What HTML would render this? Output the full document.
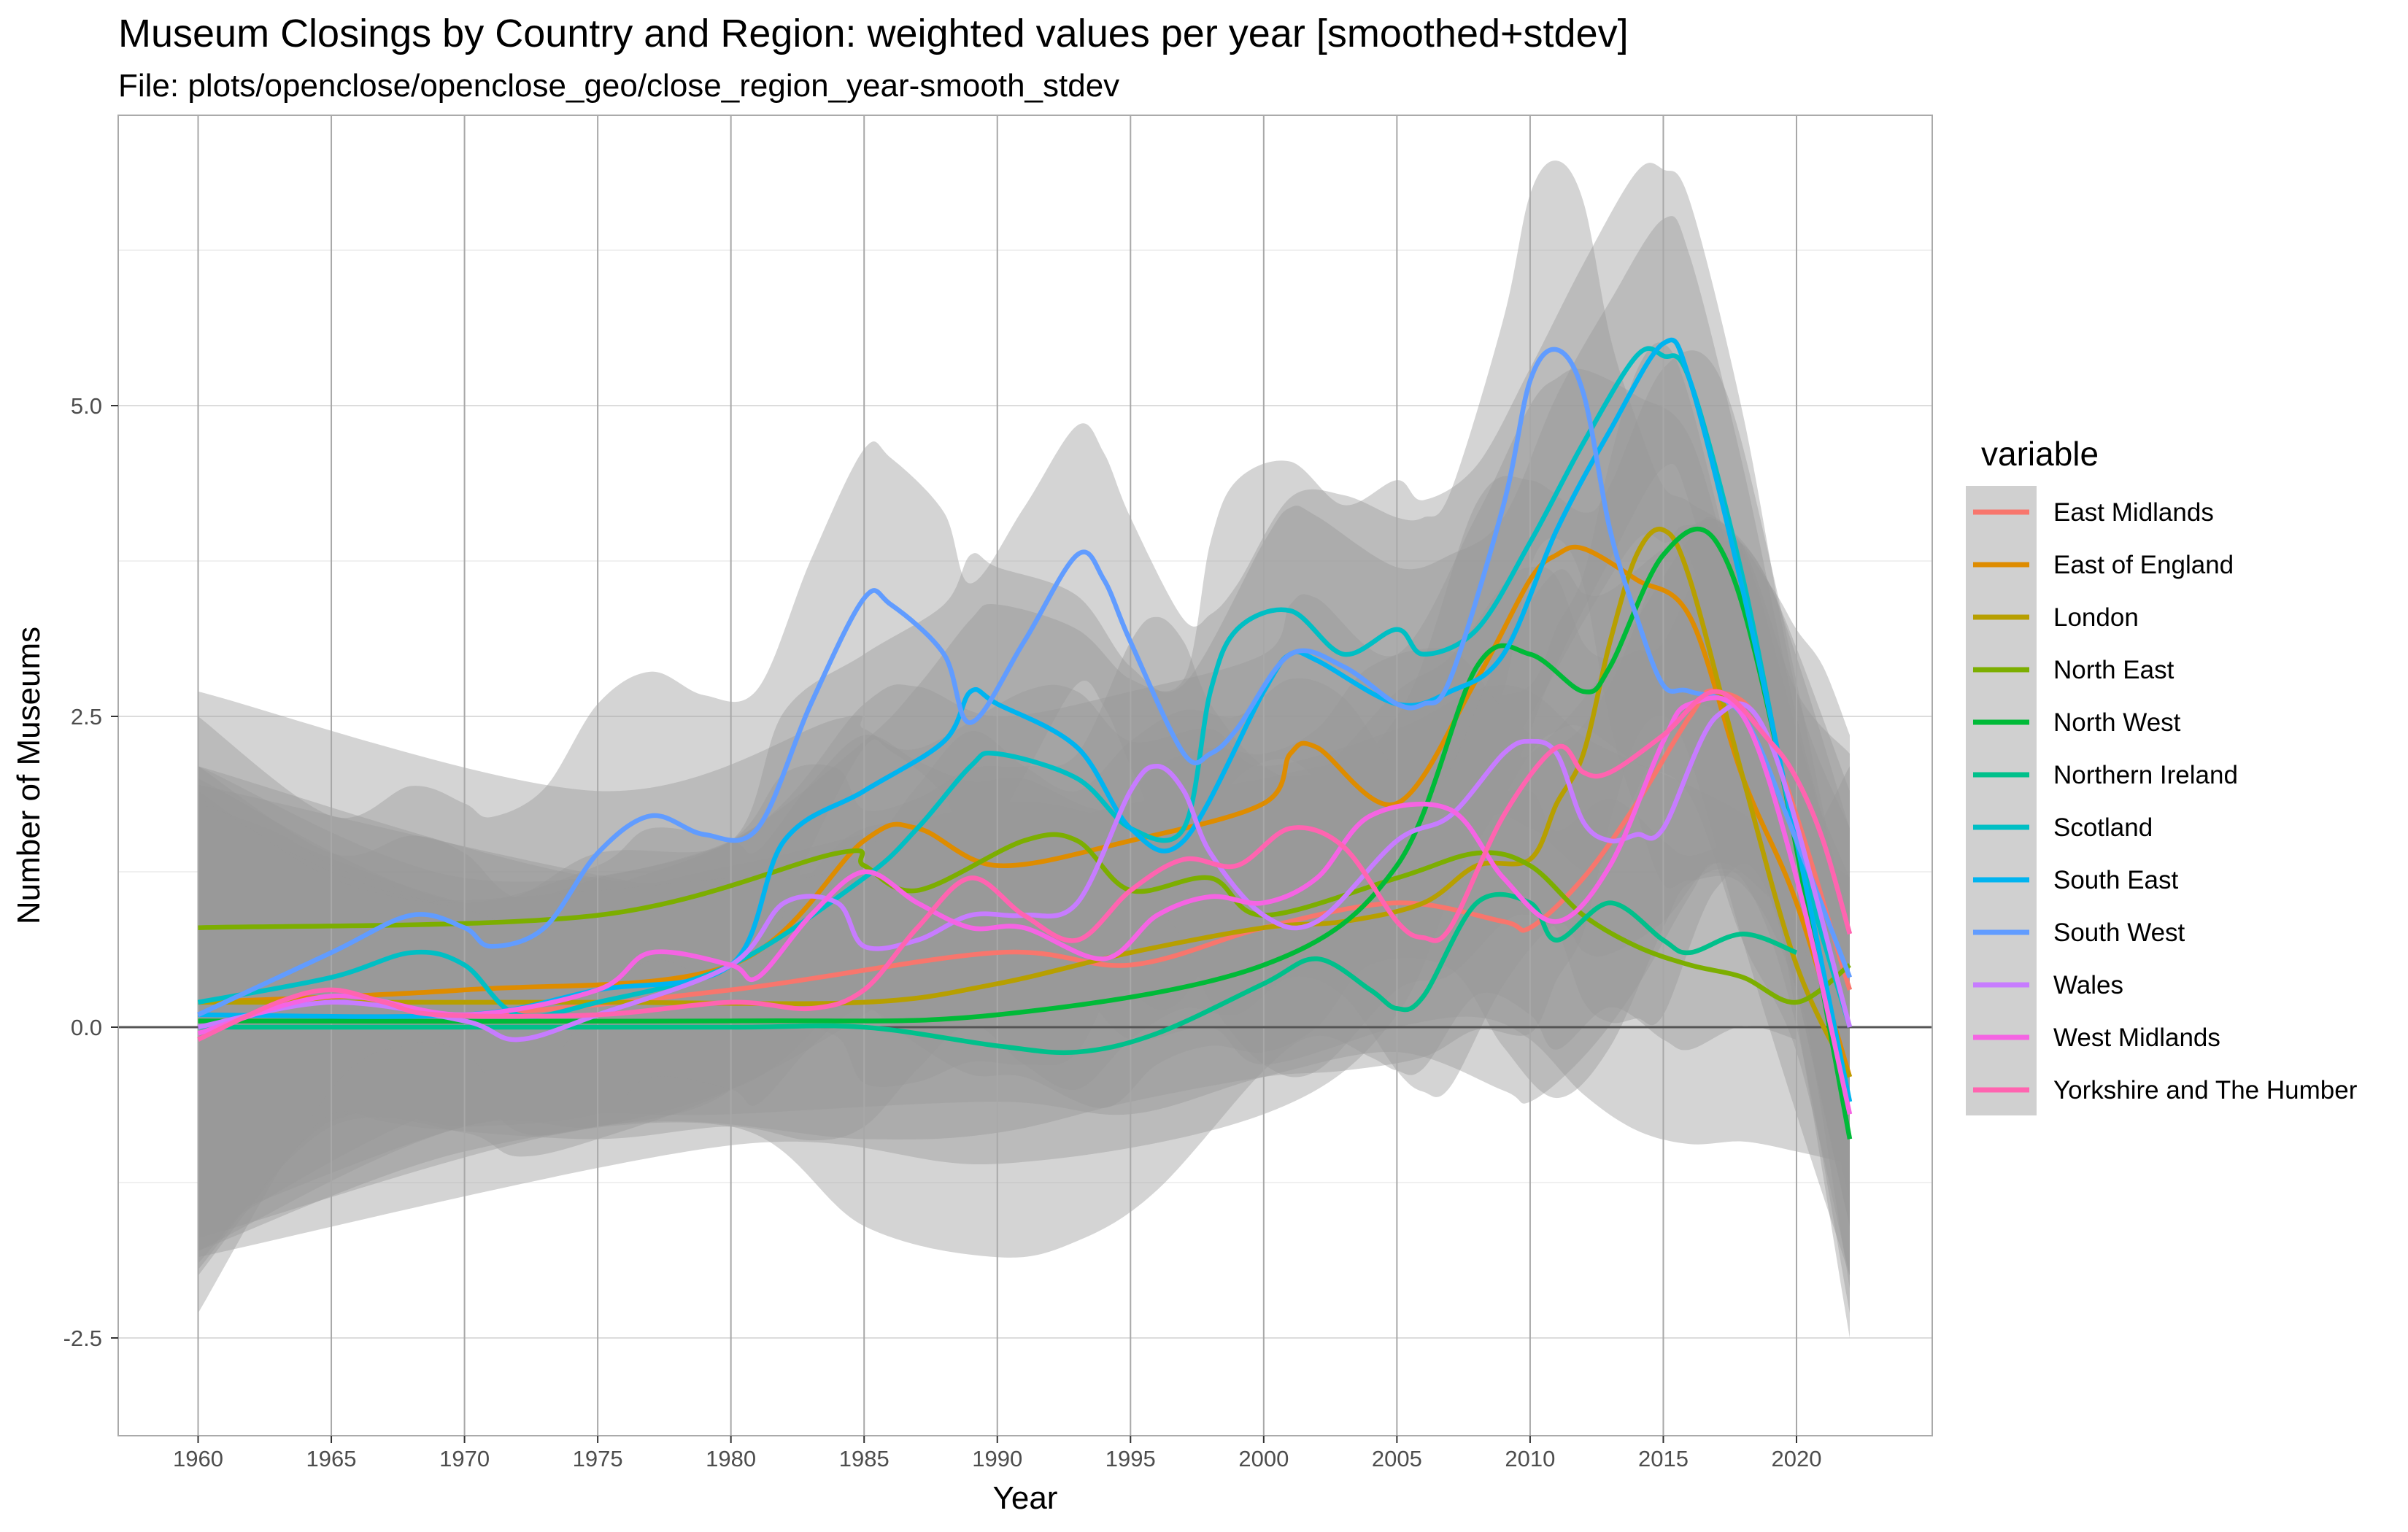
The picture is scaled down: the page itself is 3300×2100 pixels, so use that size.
<!DOCTYPE html>
<html><head><meta charset="utf-8"><style>
html,body{margin:0;padding:0;background:#fff;}
svg{display:block;font-family:"Liberation Sans",Arial,sans-serif;}
</style></head><body>
<svg id="chart" width="3300" height="2100" viewBox="0 0 3300 2100" xmlns="http://www.w3.org/2000/svg">
<rect x="0" y="0" width="3300" height="2100" fill="#fff"/>
<text x="162" y="64" font-size="54" fill="#000">Museum Closings by Country and Region: weighted values per year [smoothed+stdev]</text>
<text x="162" y="132" font-size="44" fill="#000">File: plots/openclose/openclose_geo/close_region_year-smooth_stdev</text>
<g id="grid-h"></g>
<g id="ribbons"></g>
<g id="grid-v"></g>
<line x1="162" x2="2648" y1="1408" y2="1408" stroke="#555" stroke-width="3"/>
<g id="lines"></g>
<rect x="162" y="158" width="2486" height="1810" fill="none" stroke="#aaa" stroke-width="2"/>
<g id="xticks"></g>
<g id="yticks"></g>
<text x="1405" y="2068" font-size="44" text-anchor="middle">Year</text>
<text transform="translate(54,1063) rotate(-90)" font-size="44" text-anchor="middle">Number of Museums</text>
<g id="legend">
<text x="2715" y="638" font-size="46">variable</text>
<rect x="2694" y="666" width="97" height="863" fill="#d0d0d0"/>
</g>
</svg>
<script>
const NS="http://www.w3.org/2000/svg";
const seriesNames=["East Midlands","East of England","London","North East","North West","Northern Ireland","Scotland","South East","South West","Wales","West Midlands","Yorkshire and The Humber"];
const seriesColors=["#F8766D","#DE8C00","#B79F00","#7CAE00","#00BA38","#00C08B","#00BFC4","#00B4F0","#619CFF","#C77CFF","#F564E3","#FF64B0"];
const xTicks=[1960,1965,1970,1975,1980,1985,1990,1995,2000,2005,2010,2015,2020];
const yTicks=[-2.5,0,2.5,5];
const yMinor=[-1.25,1.25,3.75,6.25];
const sdYears=[1960,1965,1970,1975,1980,1985,1990,1995,2000,2005,2010,2015,2020,2022];
const emYears=[1960,1970,1980,1990,1995,2000,2005,2009,2010,2012,2014,2016,2017,2019,2022];
const emVals=[0.1,0.1,0.3,0.6,0.5,0.8,1.0,0.85,0.8,1.2,1.8,2.5,2.7,2.3,0.3];
const eeYears=[1960,1970,1980,1985,1987,1990,1995,2000,2001,2002,2005,2008,2010,2011,2012,2014,2016,2018,2020,2022];
const eeVals=[0.2,0.3,0.5,1.5,1.6,1.3,1.5,1.8,2.2,2.25,1.8,2.8,3.6,3.8,3.85,3.6,3.3,2.0,1.0,-0.4];
const loYears=[1960,1975,1985,1990,1995,2000,2003,2006,2008,2010,2011,2012,2013,2014,2015,2016,2018,2020,2022];
const loVals=[0.2,0.2,0.2,0.35,0.6,0.8,0.85,1.0,1.3,1.35,1.8,2.2,3.1,3.8,4.0,3.6,2.0,0.5,-0.4];
const neYears=[1960,1975,1984,1985,1987,1991,1993,1995,1998,2000,2005,2008,2010,2012,2014,2016,2018,2020,2022];
const neVals=[0.8,0.9,1.4,1.3,1.1,1.5,1.5,1.1,1.2,0.9,1.2,1.4,1.3,0.9,0.65,0.5,0.4,0.2,0.5];
const nwYears=[1960,1980,1990,2000,2005,2008,2010,2012,2013,2015,2017,2019,2022];
const nwVals=[0.05,0.05,0.1,0.5,1.3,2.9,3.0,2.7,2.9,3.8,3.9,2.5,-0.9];
const niYears=[1960,1970,1980,1985,1990,1993,1996,2000,2002,2004,2005,2006,2008,2010,2011,2013,2015,2016,2018,2020];
const niVals=[0.0,0.0,0.0,0.0,-0.15,-0.2,-0.05,0.35,0.55,0.3,0.15,0.25,1.0,1.0,0.7,1.0,0.7,0.6,0.75,0.6];
const scYears=[1960,1965,1968,1970,1972,1975,1980,1985,1987,1989,1990,1993,1995,1997,1998,1999,2001,2003,2005,2006,2008,2010,2012,2014,2015,2016,2018,2020,2022];
const scVals=[0.2,0.4,0.6,0.5,0.1,0.2,0.5,1.2,1.6,2.1,2.2,2.0,1.6,1.6,2.7,3.2,3.35,3.0,3.2,3.0,3.2,3.9,4.7,5.4,5.4,5.2,3.6,1.5,0.0];
const seYears=[1960,1970,1975,1980,1982,1985,1988,1989,1990,1993,1995,1997,2000,2001,2002,2005,2007,2009,2011,2013,2015,2016,2018,2020,2022];
const seVals=[0.1,0.1,0.3,0.5,1.5,1.9,2.3,2.7,2.6,2.25,1.6,1.5,2.7,3.0,2.95,2.6,2.7,3.0,4.0,4.8,5.5,5.2,3.5,1.5,-0.6];
const swYears=[1960,1965,1968,1970,1971,1973,1975,1977,1979,1981,1983,1985,1986,1988,1989,1991,1993,1994,1995,1997,1998,1999,2001,2003,2005,2006,2007,2009,2010,2011,2012,2013,2014,2015,2016,2018,2020,2022];
const swVals=[0.1,0.6,0.9,0.8,0.65,0.8,1.4,1.7,1.55,1.6,2.6,3.45,3.4,3.0,2.45,3.1,3.8,3.6,3.1,2.2,2.2,2.4,3.0,2.9,2.6,2.6,2.8,4.2,5.2,5.45,5.1,4.0,3.3,2.75,2.7,2.5,1.5,0.4];
const waYears=[1960,1965,1970,1972,1975,1980,1982,1984,1985,1987,1989,1991,1993,1995,1996,1997,1998,2000,2002,2005,2007,2009,2010,2011,2012,2013,2014,2015,2017,2019,2022];
const waVals=[0.0,0.2,0.05,-0.1,0.1,0.5,1.0,1.0,0.65,0.7,0.9,0.9,1.0,1.9,2.1,1.9,1.4,0.9,0.85,1.5,1.7,2.2,2.3,2.2,1.65,1.5,1.55,1.6,2.5,2.3,0.0];
const wmYears=[1960,1965,1970,1975,1977,1980,1981,1983,1985,1987,1989,1991,1994,1996,1998,2000,2002,2004,2007,2009,2011,2013,2015,2016,2018,2020,2022];
const wmVals=[-0.05,0.25,0.1,0.3,0.6,0.5,0.4,0.9,1.25,1.0,0.8,0.8,0.55,0.9,1.05,1.0,1.2,1.7,1.75,1.2,0.85,1.3,2.3,2.6,2.5,1.2,-0.7];
const yhYears=[1960,1963,1965,1967,1969,1975,1980,1983,1985,1987,1989,1991,1993,1995,1997,1999,2001,2003,2005,2006,2007,2009,2011,2012,2013,2015,2017,2019,2020,2021,2022];
const yhVals=[-0.1,0.2,0.3,0.2,0.1,0.1,0.2,0.15,0.3,0.8,1.2,0.9,0.7,1.1,1.35,1.3,1.6,1.45,0.85,0.72,0.8,1.7,2.25,2.05,2.05,2.35,2.7,2.3,2.0,1.5,0.75];
const sdDefault=[1.9,1.0,0.9,1.0,1.0,1.1,1.2,1.2,1.2,1.2,1.4,1.5,1.2,1.6];
const sdSouthWest=[2.4,1.1,1.0,1.2,1.1,1.2,1.1,1.0,1.2,1.5,1.5,1.6,1.2,1.8];
const sdNorthernIreland=[1.8,1.1,1.0,1.0,0.8,1.6,1.7,1.4,0.7,0.5,0.9,0.8,0.7,1.5];
const sdSouthEast=[1.7,1.0,0.9,1.1,1.0,1.1,1.1,1.3,1.2,1.1,1.1,1.0,1.0,1.5];
const allYears=[emYears,eeYears,loYears,neYears,nwYears,niYears,scYears,seYears,swYears,waYears,wmYears,yhYears];
const allVals=[emVals,eeVals,loVals,neVals,nwVals,niVals,scVals,seVals,swVals,waVals,wmVals,yhVals];
const allSd=[sdDefault,sdDefault,sdDefault,sdDefault,sdDefault,sdNorthernIreland,sdDefault,sdSouthEast,sdSouthWest,sdDefault,sdDefault,sdDefault];

function xScale(y){return 271.5+(y-1960)*(2462-271.5)/60;}
function yScale(v){return 1408-v*(1408-556)/5;}
function sdAt(sd,yr){
  for(let i=0;i<sdYears.length-1;i++){
    if(yr<=sdYears[i+1]){const t=(yr-sdYears[i])/(sdYears[i+1]-sdYears[i]);return sd[i]+(sd[i+1]-sd[i])*t;}
  }
  return sd[sd.length-1];
}
function smoothPath(pts,move){
  let d=(move?"M":"L")+pts[0][0].toFixed(1)+","+pts[0][1].toFixed(1);
  for(let i=0;i<pts.length-1;i++){
    const p0=pts[i-1]||pts[i],p1=pts[i],p2=pts[i+1],p3=pts[i+2]||p2;
    const c1=[p1[0]+(p2[0]-p0[0])/6,p1[1]+(p2[1]-p0[1])/6];
    const c2=[p2[0]-(p3[0]-p1[0])/6,p2[1]-(p3[1]-p1[1])/6];
    d+="C"+c1[0].toFixed(1)+","+c1[1].toFixed(1)+" "+c2[0].toFixed(1)+","+c2[1].toFixed(1)+" "+p2[0].toFixed(1)+","+p2[1].toFixed(1);
  }
  return d;
}
function mk(tag,attrs,parent){const e=document.createElementNS(NS,tag);for(const k in attrs)e.setAttribute(k,attrs[k]);parent.appendChild(e);return e;}

const gh=document.getElementById("grid-h");
yMinor.forEach(v=>{
  const l=mk("line",{x1:162,x2:2648,y1:yScale(v),y2:yScale(v),stroke:"#ececec","stroke-width":1.5},gh);
  
  
});
yTicks.forEach(v=>{
  const l=mk("line",{x1:162,x2:2648,y1:yScale(v),y2:yScale(v),stroke:"#dcdcdc","stroke-width":2},gh);
  
  
});

const rg=document.getElementById("ribbons");
allYears.forEach((yrs,s)=>{
  const vals=allVals[s],sd=allSd[s];
  const up=yrs.map((y,i)=>[xScale(y),yScale(vals[i]+sdAt(sd,y))]);
  const lo=yrs.map((y,i)=>[xScale(y),yScale(vals[i]-sdAt(sd,y))]).reverse();
  const d=smoothPath(up,true)+smoothPath(lo,false)+"Z";
  const p=mk("path",{d:d,fill:"#999","fill-opacity":0.42},rg);
  
  
});

const gv=document.getElementById("grid-v");
xTicks.forEach(y=>{
  const l=mk("line",{x1:xScale(y),x2:xScale(y),y1:158,y2:1968,stroke:"#a8a8a8","stroke-width":2},gv);
  
  
});

const lg=document.getElementById("lines");
allYears.forEach((yrs,s)=>{
  const pts=yrs.map((y,i)=>[xScale(y),yScale(allVals[s][i])]);
  const p=mk("path",{d:smoothPath(pts,true),fill:"none",stroke:seriesColors[s],"stroke-width":6.5,"stroke-linejoin":"round"},lg);
  
  
});

const xt=document.getElementById("xticks");
xTicks.forEach(y=>{
  const tk=mk("line",{x1:xScale(y),x2:xScale(y),y1:1968,y2:1978,stroke:"#333","stroke-width":2},xt);
  
  
  const t=mk("text",{x:xScale(y),y:2010,"font-size":31,fill:"#4d4d4d","text-anchor":"middle"},xt);
  t.textContent=y;
  
  
});
const yt=document.getElementById("yticks");
yTicks.forEach(v=>{
  const tk=mk("line",{x1:152,x2:162,y1:yScale(v),y2:yScale(v),stroke:"#333","stroke-width":2},yt);
  
  
  const t=mk("text",{x:140,y:yScale(v)+11,"font-size":31,fill:"#4d4d4d","text-anchor":"end"},yt);
  t.textContent=v.toFixed(1);
  
  
});

const leg=document.getElementById("legend");
seriesNames.forEach((n,i)=>{
  const y=702+i*72;
  const l=mk("line",{x1:2704,x2:2781,y1:y,y2:y,stroke:seriesColors[i],"stroke-width":7},leg);
  
  
  const t=mk("text",{x:2814,y:y+12,"font-size":35,fill:"#000"},leg);
  t.textContent=n;
  
  
});
</script>
</body></html>
